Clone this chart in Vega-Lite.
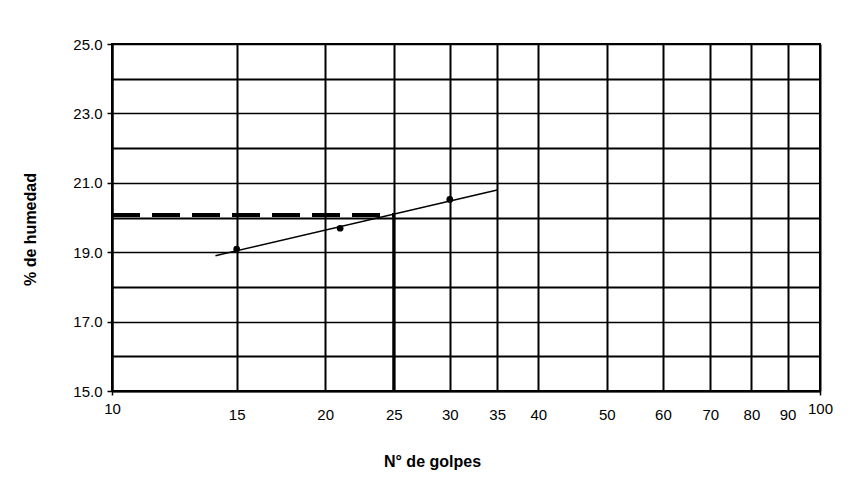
{
  "$schema": "https://vega.github.io/schema/vega-lite/v6.json",
  "width": 708,
  "height": 347,
  "autosize": {"type": "none"},
  "padding": {"left": 112, "top": 44, "right": 30, "bottom": 89},
  "background": "white",
  "config": {
    "view": {"stroke": "black", "strokeWidth": 2},
    "font": "Liberation Sans"
  },
  "datasets": {
    "dashed": [{"golpes": 10, "humedad": 20.07}, {"golpes": 25, "humedad": 20.07}],
    "vertical": [{"golpes": 25, "humedad": 15}, {"golpes": 25, "humedad": 20.07}],
    "trend": [{"golpes": 14, "humedad": 18.9}, {"golpes": 35, "humedad": 20.79}],
    "points": [
      {"golpes": 15, "humedad": 19.09},
      {"golpes": 21, "humedad": 19.69},
      {"golpes": 30, "humedad": 20.52}
    ]
  },
  "encoding": {
    "x": {
      "field": "golpes",
      "type": "quantitative",
      "scale": {"type": "log", "domain": [10, 100], "nice": false},
      "axis": {
        "values": [10, 15, 20, 25, 30, 35, 40, 50, 60, 70, 80, 90, 100],
        "format": "d",
        "labelFontSize": 15,
        "labelColor": "black",
        "labelFlush": false,
        "labelOverlap": false,
        "labelPadding": {"condition": {"test": "datum.value == 10 || datum.value == 100", "value": 6}, "value": 12},
        "tickOpacity": {"condition": {"test": "datum.value == 10 || datum.value == 100", "value": 1}, "value": 0},
        "tickSize": 4,
        "tickColor": "black",
        "tickWidth": 1.5,
        "grid": true,
        "gridColor": "black",
        "gridWidth": 2,
        "gridOpacity": 1,
        "domainColor": "black",
        "domainWidth": 2,
        "title": "N° de golpes",
        "titleFontSize": 16,
        "titleFontWeight": "bold",
        "titleColor": "black",
        "titleX": 320,
        "titleY": 70,
        "titleBaseline": "middle",
        "titleAlign": "center"
      }
    },
    "y": {
      "field": "humedad",
      "type": "quantitative",
      "scale": {"domain": [15, 25], "nice": false, "zero": false},
      "axis": {
        "values": [15, 16, 17, 18, 19, 20, 21, 22, 23, 24, 25],
        "labelExpr": "datum.value % 2 == 1 ? format(datum.value, '.1f') : ''",
        "labelFontSize": 15,
        "labelColor": "black",
        "labelPadding": 5,
        "labelOverlap": false,
        "tickOpacity": {"condition": {"test": "datum.value % 2 == 1", "value": 1}, "value": 0},
        "tickSize": 5,
        "tickColor": "black",
        "tickWidth": 1.5,
        "grid": true,
        "gridColor": "black",
        "gridWidth": {"condition": {"test": "datum.value % 2 == 0", "value": 2}, "value": 1.3},
        "gridOpacity": 1,
        "domainColor": "black",
        "domainWidth": 2,
        "title": "% de humedad",
        "titleFontSize": 16,
        "titleFontWeight": "bold",
        "titleColor": "black",
        "titleX": -82,
        "titleY": 185,
        "titleBaseline": "middle",
        "titleAlign": "center",
        "titleAngle": -90
      }
    }
  },
  "layer": [
    {
      "data": {"name": "dashed"},
      "mark": {"type": "line", "color": "black", "strokeWidth": 4, "strokeDash": [28, 12]}
    },
    {
      "data": {"name": "vertical"},
      "mark": {"type": "line", "color": "black", "strokeWidth": 3}
    },
    {
      "data": {"name": "trend"},
      "mark": {"type": "line", "color": "black", "strokeWidth": 1.5}
    },
    {
      "data": {"name": "points"},
      "mark": {"type": "circle", "color": "black", "size": 45, "opacity": 1}
    }
  ]
}
